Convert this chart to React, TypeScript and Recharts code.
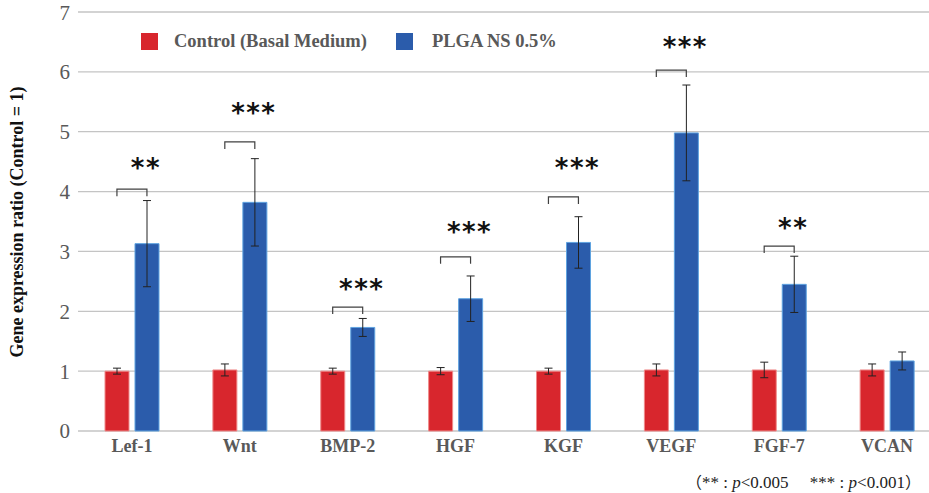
import { ComposedChart, Bar, Scatter, XAxis, YAxis, CartesianGrid, ErrorBar } from 'recharts';

const genes = ['Lef-1', 'Wnt', 'BMP-2', 'HGF', 'KGF', 'VEGF', 'FGF-7', 'VCAN'];
const control = [1.0, 1.02, 1.0, 1.0, 1.0, 1.02, 1.02, 1.02];
const controlErr = [0.05, 0.1, 0.05, 0.06, 0.05, 0.1, 0.13, 0.1];
const plga = [3.13, 3.82, 1.73, 2.21, 3.15, 4.98, 2.45, 1.17];
const plgaErr = [0.72, 0.73, 0.15, 0.38, 0.43, 0.8, 0.47, 0.15];
const marks = ['**', '***', '***', '***', '***', '***', '**', ''];
const bracketAt = [4.04, 4.83, 2.07, 2.91, 3.91, 6.03, 3.09, null];
const starsAt = [4.5, 5.42, 2.47, 3.43, 4.49, 6.52, 3.5, null];
const yTicks = [0, 1, 2, 3, 4, 5, 6, 7];

const data = genes.map((gene, i) => ({
  gene,
  control: control[i],
  controlErr: controlErr[i],
  plga: plga[i],
  plgaErr: plgaErr[i],
  mark: marks[i],
  bracket: bracketAt[i],
  stars: starsAt[i],
}));

const RED = '#d8262d';
const BLUE = '#2b5cab';
const GRAY = '#595959';
const SERIF = '"Liberation Serif", "Times New Roman", serif';

const Bracket = (props: any) => {
  const { cx, cy } = props;
  if (cx == null || cy == null || isNaN(cy)) return <g />;
  const half = 15;
  return (
    <path
      d={`M${cx - half},${cy + 7}V${cy}H${cx + half}V${cy + 7}`}
      fill="none"
      stroke="#404040"
      strokeWidth={1.2}
    />
  );
};

const Stars = (props: any) => {
  const { cx, cy, payload } = props;
  if (cx == null || cy == null || isNaN(cy) || !payload?.mark) return <g />;
  return (
    <text
      x={cx + 14}
      y={cy + 15}
      textAnchor="middle"
      fontFamily='"DejaVu Sans", sans-serif'
      fontSize={26}
      fontWeight="bold"
      letterSpacing={1.5}
      fill="#111"
    >
      {payload.mark}
    </text>
  );
};

const YLabel = () => (
  <text
    transform="translate(23, 222) rotate(-90)"
    textAnchor="middle"
    fontFamily={SERIF}
    fontSize={18}
    fontWeight="bold"
    fill="#111"
  >
    Gene expression ratio (Control = 1)
  </text>
);

export default function App() {
  return (
    <div style={{ position: 'absolute', left: 0, top: 0, width: 929, height: 493, overflow: 'hidden', background: '#fff' }}>
      <ComposedChart
        width={945}
        height={493}
        data={data}
        margin={{ top: 12, right: 4, bottom: 32, left: 0 }}
        barSize={24}
        barGap={6}
      >
        <CartesianGrid horizontal vertical={false} stroke="#c4c4c4" strokeWidth={1.3} />
        <XAxis
          dataKey="gene"
          axisLine={false}
          tickLine={false}
          tickSize={0}
          tickMargin={8}
          height={30}
          interval={0}
          tick={{ fill: GRAY, fontFamily: SERIF, fontSize: 18, fontWeight: 'bold' }}
        />
        <YAxis
          type="number"
          domain={[0, 7]}
          ticks={yTicks}
          width={78}
          axisLine={false}
          tickLine={false}
          tickSize={0}
          tickMargin={8}
          tick={{ fill: GRAY, fontFamily: SERIF, fontSize: 21 }}
          label={{ content: YLabel }}
        />
        <Bar dataKey="control" fill={RED} stroke="#ef8a8a" strokeWidth={1} isAnimationActive={false}>
          <ErrorBar dataKey="controlErr" width={4} stroke="#222" strokeWidth={1} direction="y" />
        </Bar>
        <Bar dataKey="plga" fill={BLUE} stroke="#5fa3e0" strokeWidth={1} isAnimationActive={false}>
          <ErrorBar dataKey="plgaErr" width={4} stroke="#222" strokeWidth={1} direction="y" />
        </Bar>
        <Scatter dataKey="bracket" shape={Bracket} isAnimationActive={false} />
        <Scatter dataKey="stars" shape={Stars} isAnimationActive={false} />
      </ComposedChart>

      <div
        style={{
          position: 'absolute',
          top: 31,
          left: 141,
          display: 'flex',
          alignItems: 'center',
          fontFamily: SERIF,
          fontSize: 18.5,
          fontWeight: 'bold',
          color: GRAY,
        }}
      >
        <span style={{ width: 17, height: 17, background: RED, display: 'inline-block' }} />
        <span style={{ marginLeft: 16 }}>Control (Basal Medium)</span>
        <span style={{ width: 17, height: 17, background: BLUE, display: 'inline-block', marginLeft: 29 }} />
        <span style={{ marginLeft: 19 }}>PLGA NS 0.5%</span>
      </div>

      <div
        style={{
          position: 'absolute',
          top: 472,
          left: 686,
          height: 19,
          lineHeight: '19px',
          fontFamily: SERIF,
          fontSize: 17,
          color: '#222',
          whiteSpace: 'nowrap',
        }}
      >
        <span style={{ fontFamily: '"Noto Sans CJK JP", sans-serif', fontSize: 16, lineHeight: '19px' }}>（</span>
        ** : <i>p</i>&lt;0.005　 *** : <i>p</i>&lt;0.001
        <span style={{ fontFamily: '"Noto Sans CJK JP", sans-serif', fontSize: 16, lineHeight: '19px' }}>）</span>
      </div>
    </div>
  );
}
